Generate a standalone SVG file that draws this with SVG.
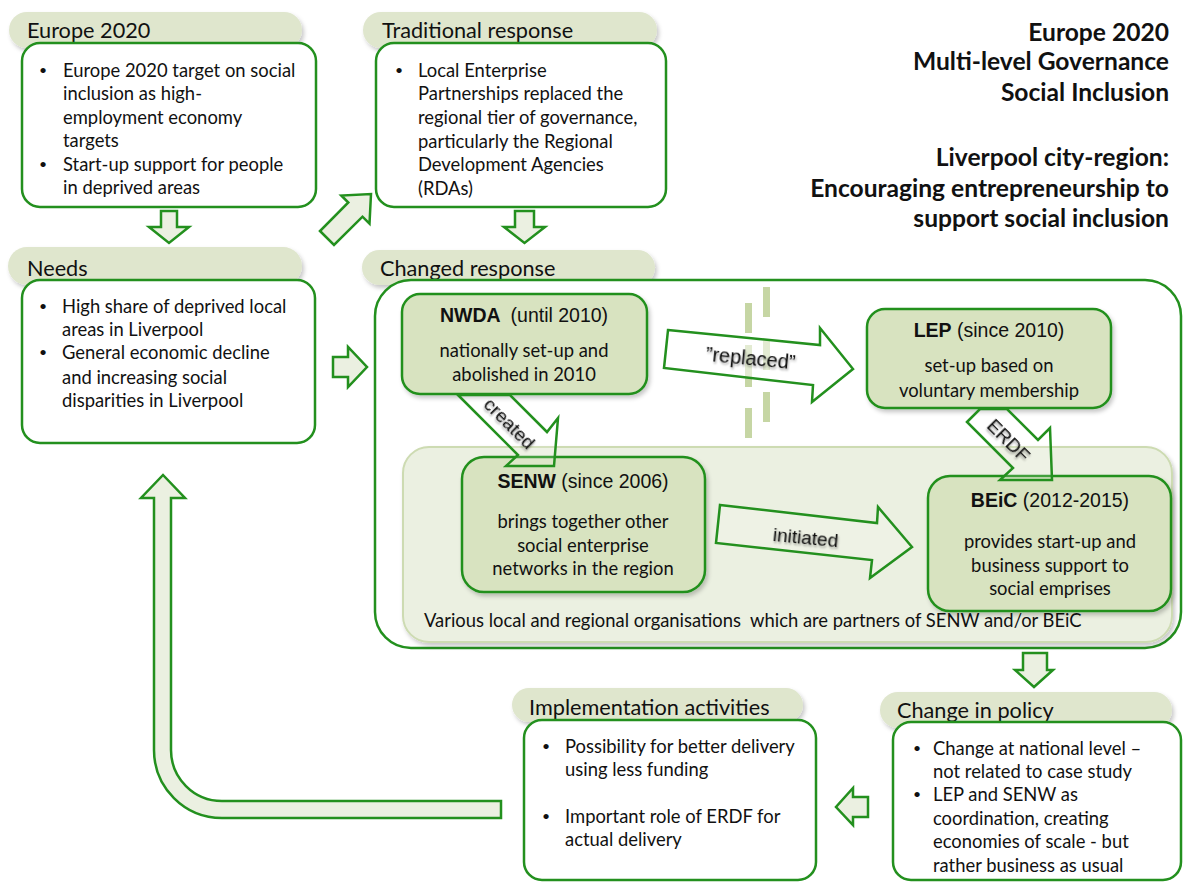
<svg xmlns="http://www.w3.org/2000/svg" width="1184" height="882" viewBox="0 0 1184 882">
<defs>
<filter id="sh" x="-10%" y="-20%" width="130%" height="150%">
<feDropShadow dx="2" dy="3" stdDeviation="2" flood-color="#000" flood-opacity="0.22"/>
</filter>
<filter id="tsh" x="-10%" y="-30%" width="130%" height="170%">
<feDropShadow dx="1" dy="2" stdDeviation="1" flood-color="#000" flood-opacity="0.35"/>
</filter>
<style>
.pill{fill:#dfe6cd;filter:url(#sh)}
.box{fill:#fff;stroke:#23901e;stroke-width:2.5}
.node{fill:#d8e3c0;stroke:#23901e;stroke-width:2.5;filter:url(#sh)}
.arr{fill:#ebf0e1;stroke:#23901e;stroke-width:2.5;stroke-linejoin:miter}
.arrw{fill:#fff;fill-opacity:0.5;stroke:#23901e;stroke-width:2.5}
.arrt{fill:#fff;fill-opacity:0.15;stroke:#23901e;stroke-width:2.5}
.bar{fill:#c6d6a4}
.hd{font-family:Lato,"Open Sans",sans-serif;font-size:21.7px;fill:#111}
.tx{font-family:Lato,"Open Sans",sans-serif;font-size:18.4px;fill:#111}
.bu{font-family:Lato,"Open Sans",sans-serif;font-size:14px;fill:#111}
.ttl{font-family:Lato,"Open Sans",sans-serif;font-size:24.6px;font-weight:bold;fill:#111;text-anchor:end}
.ar{font-family:"Liberation Sans",Arial,sans-serif;font-size:19.5px;fill:#111}
.lbl{font-family:"Liberation Sans",Arial,sans-serif;font-size:19px;fill:#111;text-anchor:middle;filter:url(#tsh)}
.c{text-anchor:middle}
</style>
</defs>
<rect width="1184" height="882" fill="#fff"/>

<g id="title">
<text class="ttl" x="1169" y="41">Europe 2020</text>
<text class="ttl" x="1169" y="70">Multi-level Governance</text>
<text class="ttl" x="1169" y="101">Social Inclusion</text>
<text class="ttl" x="1169" y="166">Liverpool city-region:</text>
<text class="ttl" x="1169" y="197">Encouraging entrepreneurship to</text>
<text class="ttl" x="1169" y="227">support social inclusion</text>
</g>

<g id="europe2020">
<rect class="pill" x="9" y="12" width="293" height="36" rx="18"/>
<text class="hd" x="27" y="38">Europe 2020</text>
<rect class="box" x="22" y="43" width="294" height="164" rx="18"/>
<text class="bu" x="39" y="75">•</text><text class="bu" x="39" y="169">•</text>
<g class="tx">
<text x="63" y="77">Europe 2020 target on social</text>
<text x="63" y="100">inclusion as high-</text>
<text x="63" y="124">employment economy</text>
<text x="63" y="147">targets</text>
<text x="63" y="171">Start-up support for people</text>
<text x="63" y="194">in deprived areas</text>
</g>
</g>

<g id="traditional">
<rect class="pill" x="363" y="12" width="294" height="36" rx="18"/>
<text class="hd" x="382" y="38">Traditional response</text>
<rect class="box" x="376" y="43" width="290" height="164" rx="18"/>
<text class="bu" x="395" y="75">•</text>
<g class="tx">
<text x="418" y="77">Local Enterprise</text>
<text x="418" y="100">Partnerships replaced the</text>
<text x="418" y="124">regional tier of governance,</text>
<text x="418" y="148">particularly the Regional</text>
<text x="418" y="171">Development Agencies</text>
<text x="418" y="195">(RDAs)</text>
</g>
</g>

<g id="needs">
<rect class="pill" x="8" y="247" width="294" height="38" rx="19"/>
<text class="hd" x="27" y="276">Needs</text>
<rect class="box" x="22" y="280" width="293" height="163" rx="18"/>
<text class="bu" x="39" y="311">•</text><text class="bu" x="39" y="357">•</text>
<g class="tx">
<text x="62" y="313">High share of deprived local</text>
<text x="62" y="336">areas in Liverpool</text>
<text x="62" y="359">General economic decline</text>
<text x="62" y="384">and increasing social</text>
<text x="62" y="407">disparities in Liverpool</text>
</g>
</g>

<g id="changed-response">
<rect class="pill" x="362" y="250" width="293" height="35" rx="17.5"/>
<text class="hd" x="380" y="276">Changed response</text>
<rect class="box" x="375" y="280" width="806" height="368" rx="36"/>
<rect x="403" y="447" width="769" height="195" rx="26" fill="#ebf0e1" stroke="#cddbb2" stroke-width="2" filter="url(#sh)"/>
<text class="tx" x="424" y="627" style="white-space:pre">Various local and regional organisations  which are partners of SENW and/or BEiC</text>
<g id="divider">
<rect class="bar" x="745" y="303" width="7" height="30"/>
<rect class="bar" x="745" y="345" width="7" height="42"/>
<rect class="bar" x="745" y="408" width="7" height="30"/>
<rect class="bar" x="763" y="287" width="7" height="30"/>
<rect class="bar" x="763" y="340" width="7" height="30"/>
<rect class="bar" x="763" y="392" width="7" height="30"/>
</g>
</g>

<g id="nwda">
<rect class="node" x="402" y="294" width="245" height="100" rx="18"/>
<text class="ar c" x="524" y="322"><tspan font-weight="bold">NWDA</tspan><tspan dx="10">(until 2010)</tspan></text>
<text class="tx c" x="524" y="357">nationally set-up and</text>
<text class="tx c" x="524" y="381">abolished in 2010</text>
</g>

<g id="lep">
<rect class="node" x="867" y="309" width="244" height="99" rx="18"/>
<text class="ar c" x="989" y="337"><tspan font-weight="bold">LEP</tspan> (since 2010)</text>
<text class="tx c" x="989" y="372">set-up based on</text>
<text class="tx c" x="989" y="397">voluntary membership</text>
</g>

<g id="senw">
<rect class="node" x="462" y="457" width="243" height="135" rx="22"/>
<text class="ar c" x="583" y="488"><tspan font-weight="bold">SENW</tspan> (since 2006)</text>
<text class="tx c" x="583" y="528">brings together other</text>
<text class="tx c" x="583" y="552">social enterprise</text>
<text class="tx c" x="583" y="575">networks in the region</text>
</g>

<g id="beic">
<rect class="node" x="928" y="476" width="243" height="135" rx="22"/>
<text class="ar c" x="1050" y="507"><tspan font-weight="bold">BEiC</tspan> (2012-2015)</text>
<text class="tx c" x="1050" y="548">provides start-up and</text>
<text class="tx c" x="1050" y="572">business support to</text>
<text class="tx c" x="1050" y="595">social emprises</text>
</g>

<g id="implementation">
<rect class="pill" x="512" y="688" width="291" height="34" rx="17"/>
<text class="hd" x="529" y="715">Implementation activities</text>
<rect class="box" x="524" y="720" width="292" height="160" rx="18"/>
<text class="bu" x="542" y="751">•</text><text class="bu" x="542" y="821">•</text>
<g class="tx">
<text x="565" y="753">Possibility for better delivery</text>
<text x="565" y="776">using less funding</text>
<text x="565" y="823">Important role of ERDF for</text>
<text x="565" y="846">actual delivery</text>
</g>
</g>

<g id="change-in-policy">
<rect class="pill" x="880" y="692" width="292" height="36" rx="18"/>
<text class="hd" x="897" y="718">Change in policy</text>
<rect class="box" x="893" y="722" width="288" height="158" rx="18"/>
<text class="bu" x="913" y="753">•</text><text class="bu" x="913" y="799">•</text>
<g class="tx">
<text x="933" y="755">Change at national level –</text>
<text x="933" y="778">not related to case study</text>
<text x="933" y="801">LEP and SENW as</text>
<text x="933" y="825">coordination, creating</text>
<text x="933" y="848">economies of scale - but</text>
<text x="933" y="872">rather business as usual</text>
</g>
</g>

<g id="connectors">
<polygon class="arr" points="161,211 177,211 177,227 189,227 169,243 149,227 161,227"/>
<polygon class="arr" points="515,211 534,211 534,227 545,227 524.5,243 504,227 515,227"/>
<polygon class="arr" points="320,231 334,245 362.5,216.7 369.5,223.7 371,194 341.3,195.5 348.3,202.5"/>
<polygon class="arr" points="333,357 348,357 348,347 367,367 348,387 348,377 333,377"/>
<polygon class="arr" points="1023,653 1047,653 1047,670 1053,670 1034,687 1015,670 1023,670"/>
<polygon class="arr" points="868,797 868,817 853,817 853,825 836,807 853,788 853,797"/>
<path class="arr" d="M501,801 L222,801 A51,51 0 0 1 171,750 L171,498 L185,498 L163,475 L141,498 L154,498 L154,750 A68,68 0 0 0 222,818 L501,818 Z"/>

<g id="replaced">
<polygon class="arrw" points="668,330 820,345 820,328 853,369 812,402 813,385 664,368"/>
<text class="lbl" style="font-size:20px" transform="translate(750,365) rotate(5.5)">”replaced”</text>
</g>
<g id="created">
<polygon class="arrt" points="458,395 518,455 506,466 554,466 558,418 547,432 510,395"/>
<text class="lbl" transform="translate(505,428) rotate(45)">created</text>
</g>
<g id="erdf">
<polygon class="arrt" points="967,422 980,409 1007,409 1038,440 1050,428 1052,480 1000,480 1013,468"/>
<text class="lbl" transform="translate(1004,445) rotate(45)">ERDF</text>
</g>
<g id="initiated">
<polygon class="arrt" points="720,505 877,523 878,507 912,547 870,578 872,560 716,543"/>
<text class="lbl" transform="translate(805,544) rotate(5.5)">initiated</text>
</g>
</g>
</svg>
